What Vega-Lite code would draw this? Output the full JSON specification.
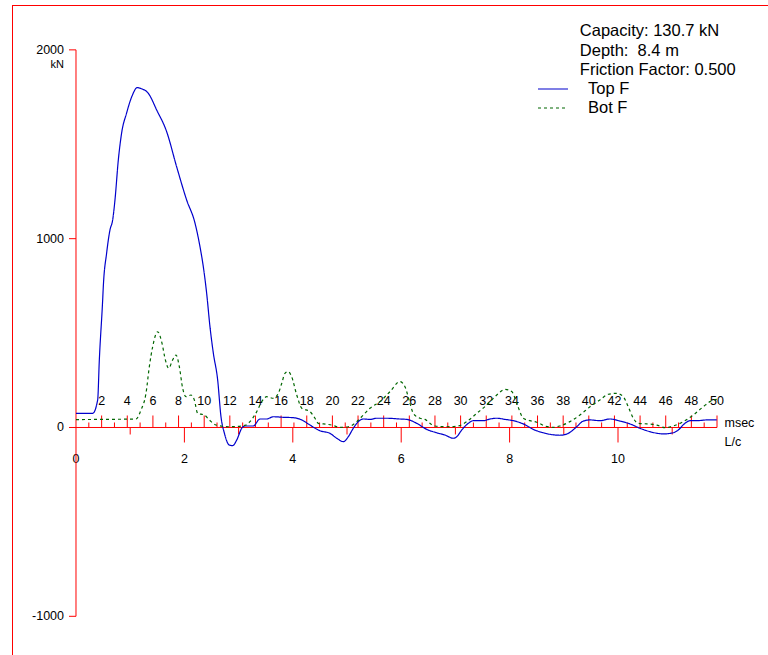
{
  "$schema": "https://vega.github.io/schema/vega-lite/v6.json",
  "width": 756,
  "height": 650,
  "autosize": {"type": "none"},
  "padding": {"left": 12, "top": 5, "right": 0, "bottom": 0},
  "background": "white",
  "config": {
    "view": {"stroke": null},
    "font": "Liberation Sans",
    "text": {"font": "Liberation Sans", "color": "black"},
    "legend": {
      "orient": "none",
      "legendX": 525,
      "legendY": 75.5,
      "symbolType": "stroke",
      "symbolSize": 900,
      "symbolStrokeWidth": 1.2,
      "labelFont": "Liberation Sans",
      "labelFontSize": 16.5,
      "labelColor": "black",
      "labelOffset": 19,
      "clipHeight": 17,
      "rowPadding": 2,
      "padding": 0
    }
  },
  "datasets": {
    "one": [{}],
    "curves": [
      {"t": 0, "f": 75, "s": "Top F"}, {"t": 1.30, "f": 75, "s": "Top F"}, {"t": 1.69, "f": 146, "s": "Top F"}, {"t": 1.82, "f": 358, "s": "Top F"},
      {"t": 2.08, "f": 675, "s": "Top F"}, {"t": 2.13, "f": 746, "s": "Top F"}, {"t": 2.39, "f": 924, "s": "Top F"}, {"t": 2.65, "f": 1046, "s": "Top F"},
      {"t": 2.86, "f": 1099, "s": "Top F"}, {"t": 3.04, "f": 1205, "s": "Top F"}, {"t": 3.30, "f": 1416, "s": "Top F"}, {"t": 3.56, "f": 1560, "s": "Top F"},
      {"t": 3.95, "f": 1666, "s": "Top F"}, {"t": 4.35, "f": 1752, "s": "Top F"}, {"t": 4.78, "f": 1800, "s": "Top F"}, {"t": 5.12, "f": 1794, "s": "Top F"},
      {"t": 5.64, "f": 1770, "s": "Top F"}, {"t": 6.29, "f": 1682, "s": "Top F"}, {"t": 7.07, "f": 1567, "s": "Top F"}, {"t": 7.85, "f": 1381, "s": "Top F"},
      {"t": 8.63, "f": 1205, "s": "Top F"}, {"t": 9.28, "f": 1083, "s": "Top F"}, {"t": 9.67, "f": 958, "s": "Top F"}, {"t": 9.93, "f": 852, "s": "Top F"},
      {"t": 10.19, "f": 712, "s": "Top F"}, {"t": 10.45, "f": 534, "s": "Top F"}, {"t": 10.71, "f": 395, "s": "Top F"}, {"t": 11.05, "f": 252, "s": "Top F"},
      {"t": 11.31, "f": 57, "s": "Top F"}, {"t": 11.57, "f": -29, "s": "Top F"}, {"t": 11.96, "f": -93, "s": "Top F"}, {"t": 12.22, "f": -96, "s": "Top F"},
      {"t": 12.54, "f": -66, "s": "Top F"}, {"t": 12.93, "f": -4, "s": "Top F"}, {"t": 13.18, "f": 8, "s": "Top F"}, {"t": 13.83, "f": 8, "s": "Top F"},
      {"t": 14.35, "f": 45, "s": "Top F"}, {"t": 14.88, "f": 45, "s": "Top F"}, {"t": 15.39, "f": 57, "s": "Top F"}, {"t": 16.17, "f": 54, "s": "Top F"},
      {"t": 16.95, "f": 52, "s": "Top F"}, {"t": 17.61, "f": 40, "s": "Top F"}, {"t": 18.25, "f": 13, "s": "Top F"}, {"t": 19.03, "f": -17, "s": "Top F"},
      {"t": 19.81, "f": -31, "s": "Top F"}, {"t": 20.34, "f": -57, "s": "Top F"}, {"t": 20.85, "f": -75, "s": "Top F"}, {"t": 21.24, "f": -49, "s": "Top F"},
      {"t": 21.63, "f": -4, "s": "Top F"}, {"t": 22.02, "f": 31, "s": "Top F"}, {"t": 22.41, "f": 45, "s": "Top F"}, {"t": 22.93, "f": 43, "s": "Top F"},
      {"t": 23.46, "f": 49, "s": "Top F"}, {"t": 24.24, "f": 49, "s": "Top F"}, {"t": 25.27, "f": 45, "s": "Top F"}, {"t": 25.80, "f": 43, "s": "Top F"},
      {"t": 26.58, "f": 22, "s": "Top F"}, {"t": 27.36, "f": -10, "s": "Top F"}, {"t": 28.14, "f": -28, "s": "Top F"}, {"t": 28.78, "f": -40, "s": "Top F"},
      {"t": 29.43, "f": -57, "s": "Top F"}, {"t": 29.70, "f": -49, "s": "Top F"}, {"t": 30.09, "f": -13, "s": "Top F"}, {"t": 30.60, "f": 22, "s": "Top F"},
      {"t": 30.99, "f": 36, "s": "Top F"}, {"t": 31.77, "f": 36, "s": "Top F"}, {"t": 32.29, "f": 45, "s": "Top F"}, {"t": 32.82, "f": 49, "s": "Top F"},
      {"t": 33.46, "f": 43, "s": "Top F"}, {"t": 34.11, "f": 36, "s": "Top F"}, {"t": 34.89, "f": 19, "s": "Top F"}, {"t": 35.67, "f": -10, "s": "Top F"},
      {"t": 36.45, "f": -28, "s": "Top F"}, {"t": 37.75, "f": -41, "s": "Top F"}, {"t": 38.40, "f": -31, "s": "Top F"}, {"t": 39.06, "f": 4, "s": "Top F"},
      {"t": 39.57, "f": 34, "s": "Top F"}, {"t": 40.09, "f": 40, "s": "Top F"}, {"t": 40.87, "f": 36, "s": "Top F"}, {"t": 41.65, "f": 45, "s": "Top F"},
      {"t": 42.43, "f": 34, "s": "Top F"}, {"t": 43.21, "f": 19, "s": "Top F"}, {"t": 43.99, "f": -4, "s": "Top F"}, {"t": 44.77, "f": -22, "s": "Top F"},
      {"t": 45.81, "f": -34, "s": "Top F"}, {"t": 46.59, "f": -28, "s": "Top F"}, {"t": 46.98, "f": -13, "s": "Top F"}, {"t": 47.50, "f": 22, "s": "Top F"},
      {"t": 47.89, "f": 36, "s": "Top F"}, {"t": 48.42, "f": 36, "s": "Top F"}, {"t": 49.20, "f": 40, "s": "Top F"}, {"t": 49.98, "f": 40, "s": "Top F"},
      {"t": 0, "f": 42, "s": "Bot F"}, {"t": 4.68, "f": 45, "s": "Bot F"}, {"t": 5.07, "f": 93, "s": "Bot F"}, {"t": 5.46, "f": 181, "s": "Bot F"},
      {"t": 5.72, "f": 322, "s": "Bot F"}, {"t": 5.98, "f": 428, "s": "Bot F"}, {"t": 6.37, "f": 507, "s": "Bot F"}, {"t": 6.71, "f": 446, "s": "Bot F"},
      {"t": 6.97, "f": 358, "s": "Bot F"}, {"t": 7.23, "f": 314, "s": "Bot F"}, {"t": 7.54, "f": 358, "s": "Bot F"}, {"t": 7.80, "f": 384, "s": "Bot F"},
      {"t": 8.06, "f": 322, "s": "Bot F"}, {"t": 8.32, "f": 208, "s": "Bot F"}, {"t": 8.58, "f": 163, "s": "Bot F"}, {"t": 8.97, "f": 172, "s": "Bot F"},
      {"t": 9.23, "f": 146, "s": "Bot F"}, {"t": 9.49, "f": 75, "s": "Bot F"}, {"t": 10.01, "f": 66, "s": "Bot F"}, {"t": 10.40, "f": 40, "s": "Bot F"},
      {"t": 10.92, "f": 13, "s": "Bot F"}, {"t": 11.96, "f": 4, "s": "Bot F"}, {"t": 12.93, "f": 8, "s": "Bot F"}, {"t": 13.26, "f": 13, "s": "Bot F"},
      {"t": 13.57, "f": 31, "s": "Bot F"}, {"t": 14.10, "f": 84, "s": "Bot F"}, {"t": 14.49, "f": 137, "s": "Bot F"}, {"t": 14.88, "f": 163, "s": "Bot F"},
      {"t": 15.39, "f": 155, "s": "Bot F"}, {"t": 15.78, "f": 181, "s": "Bot F"}, {"t": 16.05, "f": 234, "s": "Bot F"}, {"t": 16.30, "f": 287, "s": "Bot F"},
      {"t": 16.56, "f": 296, "s": "Bot F"}, {"t": 16.82, "f": 269, "s": "Bot F"}, {"t": 17.22, "f": 172, "s": "Bot F"}, {"t": 17.61, "f": 102, "s": "Bot F"},
      {"t": 18.25, "f": 84, "s": "Bot F"}, {"t": 18.64, "f": 49, "s": "Bot F"}, {"t": 18.90, "f": 22, "s": "Bot F"}, {"t": 19.56, "f": 17, "s": "Bot F"},
      {"t": 19.95, "f": 13, "s": "Bot F"}, {"t": 20.59, "f": 1, "s": "Bot F"}, {"t": 21.24, "f": 4, "s": "Bot F"}, {"t": 21.90, "f": 31, "s": "Bot F"},
      {"t": 22.41, "f": 66, "s": "Bot F"}, {"t": 22.93, "f": 102, "s": "Bot F"}, {"t": 23.71, "f": 137, "s": "Bot F"}, {"t": 24.49, "f": 190, "s": "Bot F"},
      {"t": 25.27, "f": 243, "s": "Bot F"}, {"t": 25.66, "f": 216, "s": "Bot F"}, {"t": 26.05, "f": 128, "s": "Bot F"}, {"t": 26.31, "f": 75, "s": "Bot F"},
      {"t": 26.83, "f": 49, "s": "Bot F"}, {"t": 27.22, "f": 43, "s": "Bot F"}, {"t": 27.61, "f": 22, "s": "Bot F"}, {"t": 28.00, "f": 8, "s": "Bot F"},
      {"t": 28.92, "f": 4, "s": "Bot F"}, {"t": 29.82, "f": 8, "s": "Bot F"}, {"t": 30.48, "f": 31, "s": "Bot F"}, {"t": 31.26, "f": 75, "s": "Bot F"},
      {"t": 32.04, "f": 119, "s": "Bot F"}, {"t": 32.82, "f": 172, "s": "Bot F"}, {"t": 33.46, "f": 202, "s": "Bot F"}, {"t": 33.99, "f": 190, "s": "Bot F"},
      {"t": 34.38, "f": 128, "s": "Bot F"}, {"t": 34.89, "f": 49, "s": "Bot F"}, {"t": 35.41, "f": 36, "s": "Bot F"}, {"t": 35.94, "f": 28, "s": "Bot F"},
      {"t": 36.58, "f": 8, "s": "Bot F"}, {"t": 37.23, "f": 1, "s": "Bot F"}, {"t": 37.75, "f": 8, "s": "Bot F"}, {"t": 38.53, "f": 31, "s": "Bot F"},
      {"t": 39.31, "f": 66, "s": "Bot F"}, {"t": 40.09, "f": 110, "s": "Bot F"}, {"t": 40.87, "f": 146, "s": "Bot F"}, {"t": 41.52, "f": 176, "s": "Bot F"},
      {"t": 42.18, "f": 181, "s": "Bot F"}, {"t": 42.69, "f": 163, "s": "Bot F"}, {"t": 43.08, "f": 110, "s": "Bot F"}, {"t": 43.47, "f": 49, "s": "Bot F"},
      {"t": 43.86, "f": 22, "s": "Bot F"}, {"t": 44.52, "f": 19, "s": "Bot F"}, {"t": 45.30, "f": 13, "s": "Bot F"}, {"t": 45.94, "f": -1, "s": "Bot F"},
      {"t": 46.59, "f": 8, "s": "Bot F"}, {"t": 47.37, "f": 31, "s": "Bot F"}, {"t": 48.15, "f": 66, "s": "Bot F"}, {"t": 48.93, "f": 110, "s": "Bot F"},
      {"t": 49.45, "f": 137, "s": "Bot F"}, {"t": 49.98, "f": 149, "s": "Bot F"}
    ],
    "msTicks": [
      {"ms": 1}, {"ms": 2}, {"ms": 3}, {"ms": 4}, {"ms": 5}, {"ms": 6}, {"ms": 7}, {"ms": 8}, {"ms": 9}, {"ms": 10},
      {"ms": 11}, {"ms": 12}, {"ms": 13}, {"ms": 14}, {"ms": 15}, {"ms": 16}, {"ms": 17}, {"ms": 18}, {"ms": 19}, {"ms": 20},
      {"ms": 21}, {"ms": 22}, {"ms": 23}, {"ms": 24}, {"ms": 25}, {"ms": 26}, {"ms": 27}, {"ms": 28}, {"ms": 29}, {"ms": 30},
      {"ms": 31}, {"ms": 32}, {"ms": 33}, {"ms": 34}, {"ms": 35}, {"ms": 36}, {"ms": 37}, {"ms": 38}, {"ms": 39}, {"ms": 40},
      {"ms": 41}, {"ms": 42}, {"ms": 43}, {"ms": 44}, {"ms": 45}, {"ms": 46}, {"ms": 47}, {"ms": 48}, {"ms": 49}, {"ms": 50}
    ],
    "lcTicks": [
      {"lc": 0}, {"lc": 1}, {"lc": 2}, {"lc": 3}, {"lc": 4}, {"lc": 5}, {"lc": 6}, {"lc": 7}, {"lc": 8}, {"lc": 9}, {"lc": 10}, {"lc": 11}
    ],
    "yTicks": [
      {"v": 2000, "label": "2000"}, {"v": 1000, "label": "1000"}, {"v": 0, "label": "0"}, {"v": -1000, "label": "-1000"}
    ]
  },
  "resolve": {"scale": {"x": "independent"}, "axis": {"x": "independent"}},
  "layer": [
    {
      "layer": [
        {
          "data": {"name": "lcTicks"},
          "transform": [{"filter": "datum.lc % 2 == 0 && datum.lc > 0"}],
          "mark": {"type": "rule", "color": "red", "strokeWidth": 1, "y2Offset": 15},
          "encoding": {
            "x": {"field": "lc", "type": "quantitative", "scale": {"domain": [-1.1808, 12.7675], "nice": false, "zero": false}, "axis": null},
            "y": {"datum": 0, "axis": null},
            "y2": {"datum": 0}
          }
        },
        {
          "data": {"name": "lcTicks"},
          "transform": [{"filter": "datum.lc % 2 == 1"}],
          "mark": {"type": "rule", "color": "red", "strokeWidth": 1, "y2Offset": 7},
          "encoding": {
            "x": {"field": "lc", "type": "quantitative", "axis": null},
            "y": {"datum": 0, "axis": null},
            "y2": {"datum": 0}
          }
        },
        {
          "data": {"name": "lcTicks"},
          "transform": [{"filter": "datum.lc % 2 == 0 && datum.lc <= 10"}],
          "mark": {"type": "text", "align": "center", "baseline": "middle", "dy": 31.5, "fontSize": 12.5},
          "encoding": {
            "x": {"field": "lc", "type": "quantitative", "axis": null},
            "y": {"datum": 0, "axis": null},
            "text": {"field": "lc", "type": "nominal"}
          }
        }
      ]
    },
    {
      "layer": [
        {
          "data": {"name": "one"},
          "mark": {"type": "rule", "color": "red", "strokeWidth": 1, "xOffset": 0.5},
          "encoding": {
            "x": {"datum": -4.992, "scale": {"domain": [-4.992, 53.978], "nice": false, "zero": false}, "axis": null}
          }
        },
        {
          "data": {"name": "one"},
          "mark": {"type": "rule", "color": "red", "strokeWidth": 1, "yOffset": 0.5},
          "encoding": {
            "y": {"datum": 2237.6, "axis": null}
          }
        },
        {
          "data": {"name": "one"},
          "mark": {"type": "rule", "color": "red", "strokeWidth": 1},
          "encoding": {
            "x": {"datum": 0, "axis": null},
            "x2": {"datum": 50},
            "y": {"datum": 0, "axis": null}
          }
        },
        {
          "data": {"name": "one"},
          "mark": {"type": "rule", "color": "red", "strokeWidth": 1},
          "encoding": {
            "x": {"datum": 0, "axis": null},
            "y": {"datum": -1000, "axis": null},
            "y2": {"datum": 2000}
          }
        },
        {
          "data": {"name": "yTicks"},
          "mark": {"type": "rule", "color": "red", "strokeWidth": 1, "x2Offset": -7},
          "encoding": {
            "x": {"datum": 0, "axis": null},
            "x2": {"datum": 0},
            "y": {"field": "v", "type": "quantitative", "axis": null}
          }
        },
        {
          "data": {"name": "yTicks"},
          "mark": {"type": "text", "align": "right", "baseline": "middle", "dx": -12, "fontSize": 12.5},
          "encoding": {
            "x": {"datum": 0, "axis": null},
            "y": {"field": "v", "type": "quantitative", "axis": null},
            "text": {"field": "label", "type": "nominal"}
          }
        },
        {
          "data": {"name": "one"},
          "mark": {"type": "text", "text": "kN", "align": "right", "baseline": "middle", "dx": -12, "dy": 15.5, "fontSize": 11},
          "encoding": {
            "x": {"datum": 0, "axis": null},
            "y": {"datum": 2000, "axis": null}
          }
        },
        {
          "data": {"name": "msTicks"},
          "transform": [{"filter": "datum.ms % 2 == 0"}],
          "mark": {"type": "rule", "color": "red", "strokeWidth": 1, "y2Offset": -12},
          "encoding": {
            "x": {"field": "ms", "type": "quantitative", "axis": null},
            "y": {"datum": 0, "axis": null},
            "y2": {"datum": 0}
          }
        },
        {
          "data": {"name": "msTicks"},
          "transform": [{"filter": "datum.ms % 2 == 1"}],
          "mark": {"type": "rule", "color": "red", "strokeWidth": 1, "y2Offset": -5},
          "encoding": {
            "x": {"field": "ms", "type": "quantitative", "axis": null},
            "y": {"datum": 0, "axis": null},
            "y2": {"datum": 0}
          }
        },
        {
          "data": {"name": "msTicks"},
          "transform": [{"filter": "datum.ms % 2 == 0"}],
          "mark": {"type": "text", "align": "center", "baseline": "middle", "dy": -26.5, "fontSize": 12.5},
          "encoding": {
            "x": {"field": "ms", "type": "quantitative", "axis": null},
            "y": {"datum": 0, "axis": null},
            "text": {"field": "ms", "type": "nominal"}
          }
        },
        {
          "data": {"name": "one"},
          "mark": {"type": "text", "text": "msec", "align": "left", "baseline": "middle", "dx": 7.5, "dy": -4.8, "fontSize": 12.5},
          "encoding": {
            "x": {"datum": 50, "axis": null},
            "y": {"datum": 0, "axis": null}
          }
        },
        {
          "data": {"name": "one"},
          "mark": {"type": "text", "text": "L/c", "align": "left", "baseline": "middle", "dx": 7.5, "dy": 14.2, "fontSize": 12.5},
          "encoding": {
            "x": {"datum": 50, "axis": null},
            "y": {"datum": 0, "axis": null}
          }
        },
        {
          "data": {"name": "one"},
          "mark": {"type": "text", "text": ["Capacity: 130.7 kN", "Depth: \u00a08.4 m", "Friction Factor: 0.500"], "align": "left", "baseline": "alphabetic", "lineHeight": 19.3, "fontSize": 16.5},
          "encoding": {
            "x": {"datum": 39.3, "axis": null},
            "y": {"datum": 2071, "axis": null}
          }
        },
        {
          "data": {"name": "curves"},
          "mark": {"type": "line", "interpolate": "monotone", "strokeWidth": 1.2},
          "encoding": {
            "x": {"field": "t", "type": "quantitative", "axis": null},
            "y": {"field": "f", "type": "quantitative", "scale": {"domain": [-1204.9, 2237.6], "nice": false, "zero": false}, "axis": null},
            "color": {"field": "s", "type": "nominal", "scale": {"domain": ["Top F", "Bot F"], "range": ["#0000cc", "#006600"]}, "legend": {"title": null}},
            "strokeDash": {"field": "s", "type": "nominal", "scale": {"domain": ["Top F", "Bot F"], "range": [[1, 0], [3, 3]]}, "legend": {"title": null}}
          }
        }
      ]
    }
  ]
}
